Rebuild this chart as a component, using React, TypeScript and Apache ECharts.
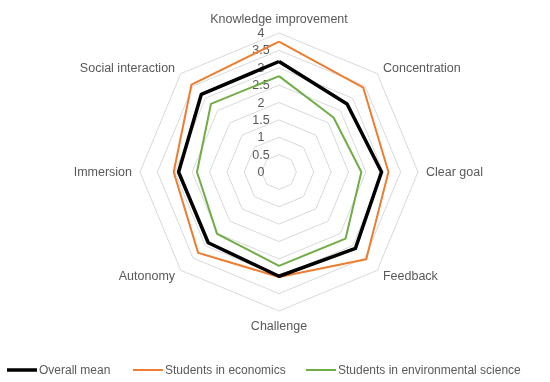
import React, { useEffect, useRef } from "react";
import * as echarts from "echarts";

// Indicators in ECharts' counterclockwise order, starting at the top
const categories = [
  "Knowledge improvement",
  "Social interaction",
  "Immersion",
  "Autonomy",
  "Challenge",
  "Feedback",
  "Clear goal",
  "Concentration",
];
const seriesNames = ["Overall mean", "Students in economics", "Students in environmental science"];
const overallMean = [3.18, 3.16, 2.89, 2.88, 3.0, 3.11, 2.95, 2.77];
const economics = [3.75, 3.56, 3.03, 3.29, 3.02, 3.55, 3.15, 3.43];
const environmental = [2.76, 2.77, 2.36, 2.52, 2.7, 2.71, 2.37, 2.22];
const axisMin = 0;
const axisMax = 4;
const splitCount = 8;

const colors = ["#000000", "#ED7D31", "#70AD47"];
const widths = [3.5, 2, 2];
const FONT = "'Liberation Sans', Arial, sans-serif";
const TEXT = "#595959";

export default function App() {
  const ref = useRef<HTMLDivElement>(null);
  useEffect(() => {
    if (!ref.current) return;
    const chart = echarts.init(ref.current, undefined, { renderer: "svg" });
    const values = [overallMean, economics, environmental];
    const legendLefts = [7, 133, 306];
    chart.setOption({
      animation: false,
      textStyle: { fontFamily: FONT },
      legend: seriesNames.map((n, i) => ({
        data: [n],
        left: legendLefts[i],
        top: 364,
        padding: 0,
        icon: "rect",
        itemWidth: 30,
        itemHeight: widths[i],
        textStyle: { color: TEXT, fontSize: 12, fontFamily: FONT, padding: [0, 0, 0, -3] },
        selectedMode: false,
      })),
      radar: {
        center: [279, 172],
        radius: 139,
        startAngle: 90,
        splitNumber: splitCount,
        shape: "polygon",
        nameGap: 8,
        axisName: { color: TEXT, fontSize: 12.5, fontFamily: FONT },
        axisLine: { show: false },
        axisTick: { show: false },
        axisLabel: { show: false },
        splitArea: { show: false },
        splitLine: { lineStyle: { color: "#D9D9D9", width: 1 } },
        indicator: categories.map((c, i) => ({
          name: c,
          min: axisMin,
          max: axisMax,
          ...(i === 0
            ? {
                axisLabel: {
                  show: true,
                  color: TEXT,
                  fontSize: 12.5,
                  fontFamily: FONT,
                  margin: 18,
                  align: "center",
                  showMinLabel: true,
                  showMaxLabel: true,
                },
              }
            : {}),
        })),
      },
      series: seriesNames.map((n, i) => ({
        type: "radar",
        name: n,
        symbol: "none",
        z: 10 - i,
        data: [
          {
            name: n,
            value: values[i],
            lineStyle: { color: colors[i], width: widths[i] },
            itemStyle: { color: colors[i] },
          },
        ],
        lineStyle: { color: colors[i], width: widths[i] },
        itemStyle: { color: colors[i] },
      })),
    });
    return () => chart.dispose();
  }, []);
  return <div ref={ref} style={{ position: "fixed", left: 0, top: 0, width: 550, height: 382 }} />;
}
